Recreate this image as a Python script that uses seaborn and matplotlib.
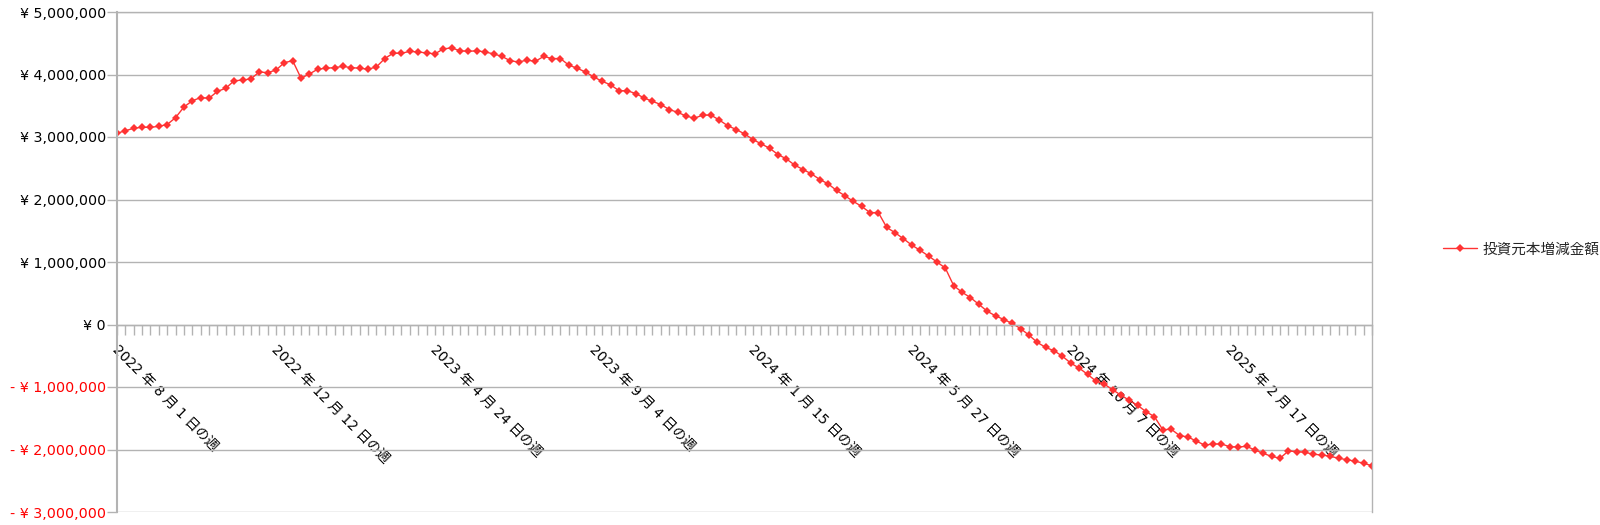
import matplotlib
matplotlib.use("Agg")
import matplotlib.pyplot as plt
import matplotlib.transforms as mtransforms
import numpy as np
import pandas as pd
import seaborn as sns

# weekly series, first week = 2022-08-01
START_WEEK = "2022-08-01"
SERIES_NAME = "投資元本増減金額"

# values, in millions of yen
principal_change_m = [
    3.06, 3.10, 3.14, 3.155, 3.155, 3.17, 3.20, 3.31, 3.48, 3.58,
    3.63, 3.62, 3.73, 3.78, 3.90, 3.91, 3.93, 4.04, 4.03, 4.07,
    4.19, 4.22, 3.94, 4.01, 4.085, 4.10, 4.11, 4.13, 4.11, 4.10,
    4.085, 4.12, 4.255, 4.34, 4.34, 4.37, 4.36, 4.345, 4.33, 4.41,
    4.425, 4.38, 4.37, 4.38, 4.36, 4.33, 4.29, 4.22, 4.20, 4.23,
    4.21, 4.29, 4.255, 4.255, 4.15, 4.10, 4.04, 3.96, 3.89, 3.835,
    3.74, 3.74, 3.695, 3.625, 3.57, 3.52, 3.44, 3.395, 3.337, 3.30,
    3.35, 3.35, 3.27, 3.18, 3.12, 3.05, 2.96, 2.89, 2.82, 2.72,
    2.65, 2.55, 2.48, 2.41, 2.32, 2.25, 2.145, 2.06, 1.97, 1.89,
    1.79, 1.79, 1.553, 1.468, 1.372, 1.27, 1.186, 1.096, 1.00, 0.904,
    0.622, 0.516, 0.431, 0.324, 0.213, 0.138, 0.080, 0.018, -0.066, -0.170,
    -0.287, -0.367, -0.420, -0.508, -0.618, -0.698, -0.797, -0.905, -0.953, -1.045,
    -1.13, -1.215, -1.295, -1.395, -1.475, -1.685, -1.675, -1.777, -1.80, -1.865,
    -1.93, -1.912, -1.912, -1.955, -1.96, -1.95, -2.007, -2.062, -2.11, -2.14,
    -2.025, -2.033, -2.045, -2.077, -2.087, -2.108, -2.14, -2.163, -2.188, -2.22,
    -2.26,
]

y_ticks = [-3_000_000, -2_000_000, -1_000_000, 0, 1_000_000, 2_000_000, 3_000_000, 4_000_000, 5_000_000]
LABEL_EVERY = 19  # one date label every 19 weeks

RED = "#ff3333"
GRID = "#b3b3b3"


def yen_label(v):
    if v < 0:
        return f"- ¥ {abs(v):,}"
    return f"¥ {v:,}"


def week_label(d):
    return f"{d.year} 年 {d.month} 月 {d.day} 日の週"


weeks = pd.date_range(START_WEEK, periods=len(principal_change_m), freq="7D")
df = pd.DataFrame({"week": weeks, "amount": np.array(principal_change_m) * 1_000_000})

sns.set_theme(style="white")
plt.rcParams["font.family"] = ["DejaVu Sans", "Noto Sans CJK JP"]

fig = plt.figure(figsize=(16, 5.25), dpi=100)
ax = fig.add_axes([117 / 1600, 13 / 525, 1255 / 1600, 500 / 525])

sns.lineplot(
    data=df, x="week", y="amount", ax=ax, color=RED, linewidth=1,
    marker="D", markersize=4, markeredgewidth=0, label=SERIES_NAME,
)

ax.set_xlim(weeks[0], weeks[-1])
ax.set_ylim(y_ticks[0], y_ticks[-1])
ax.set_xlabel("")
ax.set_ylabel("")

# y axis
ax.set_yticks(y_ticks)
ax.set_yticklabels([yen_label(v) for v in y_ticks])
ax.tick_params(axis="y", which="major", direction="out", length=7, width=1, color=GRID, pad=1, left=True)
ax.yaxis.grid(True, color=GRID, linewidth=1)
ax.xaxis.grid(False)

# x axis sits on zero
major_weeks = weeks[::LABEL_EVERY]
ax.set_xticks(weeks, minor=True)
ax.set_xticks(major_weeks)
ax.set_xticklabels([week_label(d) for d in major_weeks])
ax.tick_params(axis="x", which="both", direction="out", length=7, width=1, color=GRID, pad=6, bottom=True)

ax.spines["bottom"].set_position(("data", 0))
for side in ["left", "right", "top", "bottom"]:
    ax.spines[side].set_color(GRID)
    ax.spines[side].set_linewidth(1)
ax.spines["left"].set_linewidth(1.5)

ax.legend(
    loc="center left", bbox_to_anchor=(1443 / 1600, 1 - 249 / 525), bbox_transform=fig.transFigure,
    frameon=False, handlelength=2.3, handletextpad=0.4, borderpad=0, borderaxespad=0, fontsize=10.5,
)

# label styling last, so nothing resets it
shift = mtransforms.ScaledTranslation(3 / 100, 0, fig.dpi_scale_trans)
for lbl in ax.get_xticklabels():
    lbl.set_fontsize(9.9)
    lbl.set_rotation(-45)
    lbl.set_rotation_mode("anchor")
    lbl.set_ha("left")
    lbl.set_va("top")
    lbl.set_color("black")
    lbl.set_transform(lbl.get_transform() + shift)
for lbl, v in zip(ax.get_yticklabels(), y_ticks):
    lbl.set_fontsize(10.3)
    lbl.set_color("#ff0000" if v < 0 else "black")

fig.savefig("out.png", dpi=100, facecolor="white")
